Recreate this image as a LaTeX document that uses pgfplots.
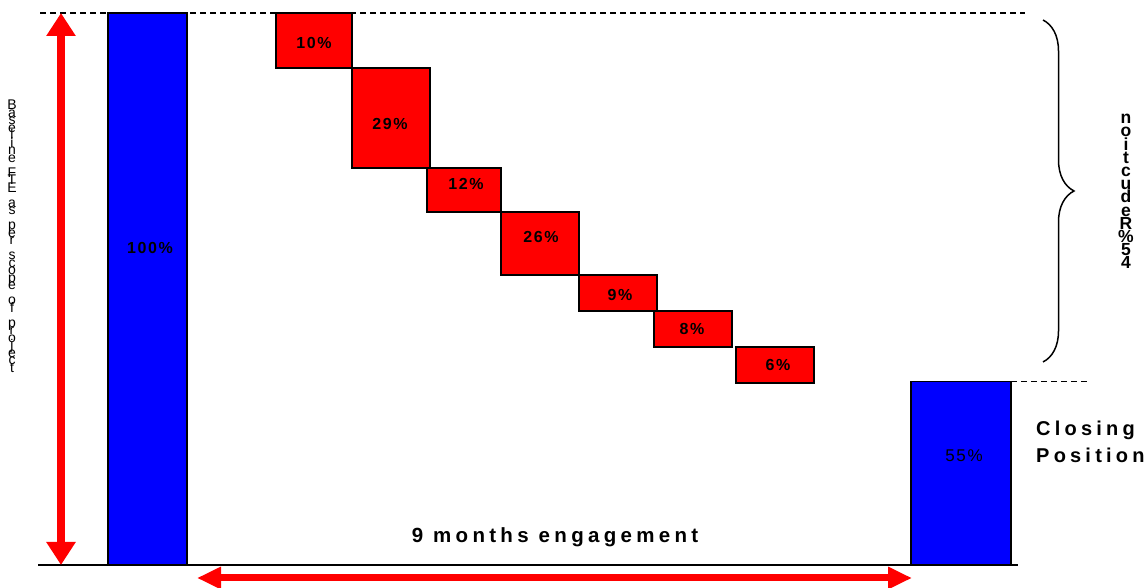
\documentclass[border=0pt]{standalone}
\usepackage{fontspec}
\setmainfont{Liberation Sans}
\newfontfamily\spfont[LetterSpace=21]{Liberation Sans}
\newfontfamily\lblfont[LetterSpace=10]{Liberation Sans}
\usepackage{pgfplots}
\pgfplotsset{compat=1.18}
\usetikzlibrary{arrows.meta,decorations.pathreplacing}
\definecolor{pblue}{RGB}{0,0,255}
\definecolor{pred}{RGB}{255,0,0}
\lineskiplimit=-100pt
\begin{document}
\begin{tikzpicture}
\useasboundingbox (0,0) rectangle (1146pt,587pt);
\begin{axis}[at={(0,0)}, anchor=south west, scale only axis,
  width=1146pt, height=587pt, xmin=0, xmax=1146, ymin=-3.986, ymax=102.355,
  hide axis, clip=false]
% opening bar
\addplot[fill=pblue, draw=black, line width=1.5pt] coordinates {(108,0)(187,0)(187,100)(108,100)(108,0)(187,0)};
% reductions (floating bars)
\addplot[fill=pred, draw=black, line width=2pt] coordinates {(276,90)(352,90)(352,100)(276,100)(276,90)(352,90)};
\addplot[fill=pred, draw=black, line width=2pt] coordinates {(352,72)(430,72)(430,90)(352,90)(352,72)(430,72)};
\addplot[fill=pred, draw=black, line width=2pt] coordinates {(427,64)(501,64)(501,72)(427,72)(427,64)(501,64)};
\addplot[fill=pred, draw=black, line width=2pt] coordinates {(501,52.5)(579,52.5)(579,64)(501,64)(501,52.5)(579,52.5)};
\addplot[fill=pred, draw=black, line width=2pt] coordinates {(579,46)(657,46)(657,52.5)(579,52.5)(579,46)(657,46)};
\addplot[fill=pred, draw=black, line width=2pt] coordinates {(654,39.5)(732,39.5)(732,46)(654,46)(654,39.5)(732,39.5)};
\addplot[fill=pred, draw=black, line width=2pt] coordinates {(736,33)(814,33)(814,39.5)(736,39.5)(736,33)(814,33)};
% closing bar
\addplot[fill=pblue, draw=black, line width=1.5pt] coordinates {(911,0)(1011,0)(1011,33.2)(911,33.2)(911,0)(1011,0)};
% guide lines
\addplot[black, line width=1.5pt, dash pattern=on 6pt off 4pt] coordinates {(40,100)(1025,100)};
\addplot[black, line width=1.5pt, dash pattern=on 6pt off 4pt] coordinates {(1011,33.2)(1087,33.2)};
\addplot[black, line width=2pt] coordinates {(38,0)(1018,0)};
% arrows
\addplot[pred, line width=8pt, {Triangle[width=28pt,length=23pt]}-{Triangle[width=28pt,length=23pt]}] coordinates {(61,100)(61,0)};
\addplot[pred, line width=7pt, {Triangle[width=21pt,length=24pt]}-{Triangle[width=21pt,length=24pt]}] coordinates {(197,-2.355)(912,-2.355)};
% brace
\draw[decorate, decoration={brace, amplitude=31pt}, line width=1.5pt] (axis cs:1043,98.73) -- (axis cs:1043,36.78);
% labels
\node[font=\lblfont\bfseries\fontsize{16}{18}\selectfont] at (axis cs:150,57.4) {100\%};
\node[font=\lblfont\bfseries\fontsize{16}{18}\selectfont] at (axis cs:314,94.6) {10\%};
\node[font=\lblfont\bfseries\fontsize{16}{18}\selectfont] at (axis cs:390,79.9) {29\%};
\node[font=\lblfont\bfseries\fontsize{16}{18}\selectfont] at (axis cs:466,69.0) {12\%};
\node[font=\lblfont\bfseries\fontsize{16}{18}\selectfont] at (axis cs:541,59.4) {26\%};
\node[font=\lblfont\bfseries\fontsize{16}{18}\selectfont] at (axis cs:620,48.9) {9\%};
\node[font=\lblfont\bfseries\fontsize{16}{18}\selectfont] at (axis cs:692,42.75) {8\%};
\node[font=\lblfont\bfseries\fontsize{16}{18}\selectfont] at (axis cs:778,36.2) {6\%};
\node[font=\lblfont\fontsize{17}{19}\selectfont] at (axis cs:964,19.75) {55\%};
\node[font=\spfont\bfseries\fontsize{20}{27}\selectfont, align=left, anchor=west, inner sep=0pt] at (axis cs:1036,22.37) {Closing\\Position};
\node[font=\spfont\bfseries\fontsize{20.5}{24}\selectfont] at (axis cs:555,5.07) {9 months engagement};
% stacked side texts
\node[font=\fontsize{14}{7.5}\selectfont, align=center, anchor=north, inner sep=0pt] at (axis cs:12,84.24)
 {B\\a\\s\\e\\l\\i\\n\\e\\~\\F\\T\\E\\~\\a\\s\\~\\p\\e\\r\\~\\s\\c\\o\\p\\e\\~\\o\\f\\~\\p\\r\\o\\j\\e\\c\\t};
\node[font=\bfseries\fontsize{17.5}{13.2}\selectfont, align=center, anchor=north, inner sep=0pt] at (axis cs:1126,81.7)
 {n\\o\\i\\t\\c\\u\\d\\e\\R\\\%\\5\\4};
\end{axis}
\end{tikzpicture}
\end{document}
